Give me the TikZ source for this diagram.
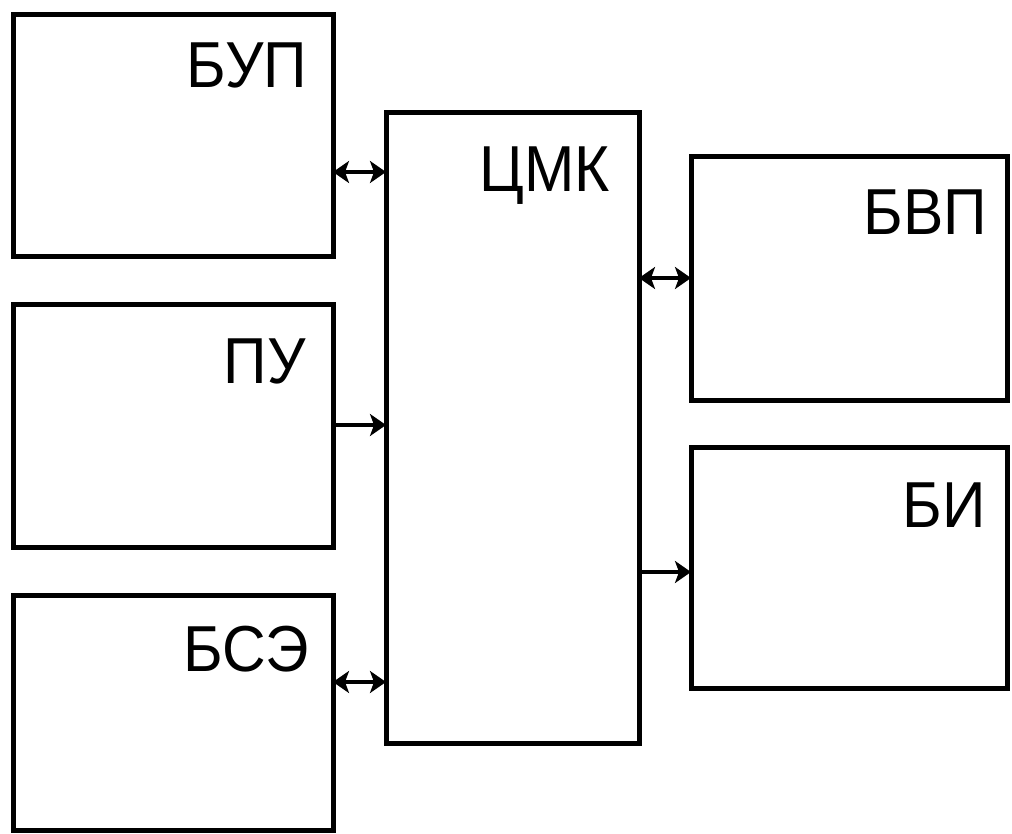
\documentclass[tikz,border=0pt]{standalone}
\usepackage{fontspec}
\setmainfont{Liberation Sans}
\usetikzlibrary{arrows.meta}
\begin{document}
\begin{tikzpicture}[x=1pt,y=-1pt,
  blk/.style={draw,line width=5pt,inner sep=0pt,outer sep=0pt,rectangle},
  lbl/.style={inner sep=0pt,anchor=base east,xscale=0.93,font=\fontsize{65}{65}\selectfont},
  conn/.style={line width=4pt,arrows={Stealth[length=16pt,width=22pt,inset=4pt]-Stealth[length=16pt,width=22pt,inset=4pt]}},
  conn1/.style={line width=4pt,arrows={-Stealth[length=16pt,width=22pt,inset=4pt]}}]
\useasboundingbox[fill=white] (0,0) rectangle (1012,834);
% boxes
\node[blk,minimum width=320pt,minimum height=242pt] (bup) at (173,136) {};
\node[blk,minimum width=320pt,minimum height=242pt] (pu)  at (173,426) {};
\node[blk,minimum width=320pt,minimum height=235pt] (bse) at (173,712.5) {};
\node[blk,minimum width=253pt,minimum height=630pt] (cmk) at (512.5,428) {};
\node[blk,minimum width=316pt,minimum height=243pt] (bvp) at (849,278.5) {};
\node[blk,minimum width=316pt,minimum height=241pt] (bi)  at (849,567.5) {};
% labels
\node[lbl] (tbup) at (307,88) {БУП};
\node[lbl] (tpu)  at (306,383) {ПУ};
\node[lbl] (tbse) at (309,671) {БСЭ};
\node[lbl] (tcmk) at (610,192) {ЦМК};
\node[lbl] (tbvp) at (987,235) {БВП};
\node[lbl] (tbi)  at (986,527) {БИ};
% connector levels
\coordinate (y1) at (0,172);
\coordinate (y2) at (0,425);
\coordinate (y3) at (0,682);
\coordinate (y4) at (0,278);
\coordinate (y5) at (0,572);
\draw[conn]  (bup.east |- y1) -- (cmk.west |- y1);
\draw[conn1] (pu.east |- y2) -- (cmk.west |- y2);
\draw[conn]  (bse.east |- y3) -- (cmk.west |- y3);
\draw[conn]  (cmk.east |- y4) -- (bvp.west |- y4);
\draw[conn1] (cmk.east |- y5) -- (bi.west |- y5);
\end{tikzpicture}
\end{document}
